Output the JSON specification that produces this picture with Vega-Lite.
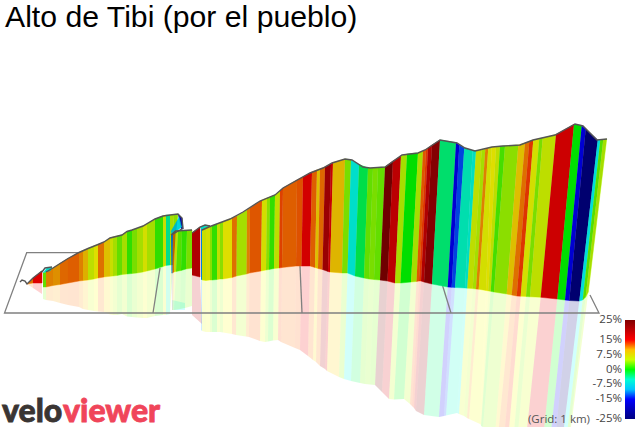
{
"$schema":"https://vega.github.io/schema/vega-lite/v6.json",
"width":637,"height":427,"padding":0,"autosize":"none","background":"white",
"title":{"text":"Alto de Tibi (por el pueblo)","anchor":"start","frame":"group","orient":"top","offset":-33,"dx":5,"font":"Liberation Sans","fontSize":30.2,"fontWeight":"normal","color":"#000000"},
"datasets":{
"slices":[
{"s":1,"g":11,"x":[27,33,33,27],"y":[284,278,283,284],"rx":[27,33,33,27],"ry":[284,283,288,284],"o":[0,1,2,3]},
{"s":2,"g":15,"x":[33,42,42,33],"y":[278,271,283,283],"rx":[33,42,42,33],"ry":[283,283,294,288],"o":[0,1,2,3]},
{"s":4,"g":2,"x":[43,46,46,43],"y":[273,272,287,287],"rx":[43,46,46,43],"ry":[287,287,300,299],"o":[0,1,2,3]},
{"s":5,"g":10.5,"x":[46,53,53,46],"y":[272,268,285.5,287],"rx":[46,53,53,46],"ry":[287,285.5,301,300],"o":[0,1,2,3]},
{"s":6,"g":-6,"x":[43,47,52,50],"y":[273,268,267,271],"rx":[43,47,47,43],"ry":[287,287,287,287],"o":[0,1,2,3]},
{"s":7,"g":10,"x":[53,60,60,53],"y":[268,263.5,284.5,285.5],"rx":[53,60,60,53],"ry":[285.5,284.5,303,301],"o":[0,1,2,3]},
{"s":8,"g":11.5,"x":[60,68,68,60],"y":[263.5,258.5,283,284.5],"rx":[60,68,68,60],"ry":[284.5,283,305,303],"o":[0,1,2,3]},
{"s":9,"g":12,"x":[68,79,79,68],"y":[258.5,252.5,281,283],"rx":[68,79,79,68],"ry":[283,281,307,305],"o":[0,1,2,3]},
{"s":10,"g":10.5,"x":[79,83,83,79],"y":[252.5,250.5,280.5,281],"rx":[79,83,83,79],"ry":[281,280.5,309,307],"o":[0,1,2,3]},
{"s":11,"g":9,"x":[83,88,88,83],"y":[250.5,248.5,280,280.5],"rx":[83,88,88,83],"ry":[280.5,280,310,309],"o":[0,1,2,3]},
{"s":12,"g":6,"x":[88,94,94,88],"y":[248.5,246,279,280],"rx":[88,94,94,88],"ry":[280,279,311,310],"o":[0,1,2,3]},
{"s":13,"g":7.5,"x":[94,98,98,94],"y":[246,244.5,278,279],"rx":[94,98,98,94],"ry":[279,278,311.5,311],"o":[0,1,2,3]},
{"s":14,"g":11,"x":[98,104,104,98],"y":[244.5,242,277,278],"rx":[98,104,104,98],"ry":[278,277,312,311.5],"o":[0,1,2,3]},
{"s":15,"g":8.5,"x":[104,110,110,104],"y":[242,238,276.3,277],"rx":[104,110,110,104],"ry":[277,276.3,314.6,312],"o":[0,1,2,3]},
{"s":16,"g":6.5,"x":[110,113,113,110],"y":[238,237,276,276.3],"rx":[110,113,113,110],"ry":[276.3,276,315,314.6],"o":[0,1,2,3]},
{"s":17,"g":5,"x":[113,117,117,113],"y":[237,236,275.5,276],"rx":[113,117,117,113],"ry":[276,275.5,315,315],"o":[0,1,2,3]},
{"s":18,"g":2,"x":[117,122,122,117],"y":[236,235,274.5,275.5],"rx":[117,122,122,117],"ry":[275.5,274.5,314,315],"o":[0,1,2,3]},
{"s":19,"g":5,"x":[122,127,127,122],"y":[235,231.5,274,274.5],"rx":[122,127,127,122],"ry":[274.5,274,316.5,314],"o":[0,1,2,3]},
{"s":20,"g":0.5,"x":[127,132,132,127],"y":[231.5,230,273.5,274],"rx":[127,132,132,127],"ry":[274,273.5,317,316.5],"o":[0,1,2,3]},
{"s":21,"g":3,"x":[132,137,137,132],"y":[230,228.5,273,273.5],"rx":[132,137,137,132],"ry":[273.5,273,317.5,317],"o":[0,1,2,3]},
{"s":22,"g":5,"x":[137,143,143,137],"y":[228.5,226,272,273],"rx":[137,143,143,137],"ry":[273,272,318,317.5],"o":[0,1,2,3]},
{"s":23,"g":7,"x":[143,147,147,143],"y":[226,224,271,272],"rx":[143,147,147,143],"ry":[272,271,318,318],"o":[0,1,2,3]},
{"s":24,"g":5,"x":[147,155,155,147],"y":[224,219,269,271],"rx":[147,155,155,147],"ry":[271,269,316,318],"o":[0,1,2,3]},
{"s":25,"g":0.5,"x":[155,163,163,155],"y":[219,216,266.5,269],"rx":[155,163,163,155],"ry":[269,266.5,315,316],"o":[0,1,2,3]},
{"s":26,"g":6.5,"x":[163,166,166,163],"y":[216,215,265.5,266.5],"rx":[163,166,166,163],"ry":[266.5,265.5,315,315],"o":[0,1,2,3]},
{"s":27,"g":-3,"x":[166,170,170,166],"y":[215,215,265,265.5],"rx":[166,170,170,166],"ry":[265.5,265,314,315],"o":[0,1,2,3]},
{"s":28,"g":5,"x":[170,174,172,170],"y":[215,214.5,265,265],"rx":[170,172,170,170],"ry":[265,265,313,314],"o":[0,1,2,3]},
{"s":29,"g":4,"x":[174,178,173,172],"y":[214.5,214,265,265],"rx":[172,173,170,170],"ry":[265,265,313,313],"o":[0,1,2,3]},
{"s":30,"g":-20,"x":[178,182,183,181],"y":[214,218,229,229],"rx":[181,183,183,181],"ry":[300,300,300,300],"o":[0,1,2,3]},
{"s":31,"g":-8,"x":[179,181.5,172,171],"y":[217,227,235,231],"rx":[172,185,185,172],"ry":[300,303,310,310],"o":[0,1,2,3]},
{"s":32,"g":-12,"x":[171,173,172.5,171.5],"y":[235,233,273,273],"rx":[171.5,172.5,172,172],"ry":[273,273,310,310],"o":[0,1,2,3]},
{"s":33,"g":11,"x":[173,175.5,174,172.5],"y":[233,231,272,273],"rx":[172.5,174,173,172],"ry":[273,272,310,310],"o":[0,1,2,3]},
{"s":34,"g":6,"x":[175.5,178,176,174],"y":[231,231,271.5,272],"rx":[174,176,174,173],"ry":[272,271.5,310,310],"o":[0,1,2,3]},
{"s":35,"g":1.5,"x":[178,182,181,176],"y":[231,231,270.5,271.5],"rx":[176,181,180,174],"ry":[271.5,270.5,309,310],"o":[0,1,2,3]},
{"s":36,"g":0.5,"x":[182,187,186,181],"y":[231,230.5,269,270.5],"rx":[181,186,185,180],"ry":[270.5,269,308,309],"o":[0,1,2,3]},
{"s":37,"g":3,"x":[187,192,192,186],"y":[230.5,230,268,269],"rx":[186,192,192,185],"ry":[269,268,306,308],"o":[0,1,2,3]},
{"s":38,"g":19,"x":[192,200,200,192],"y":[233,227,277,275],"rx":[192,200,202,192],"ry":[275,277,324,315],"o":[0,1,2,3]},
{"s":39,"g":-6,"x":[200,205,210,202],"y":[227,225,226,231],"rx":[200,202,202,200],"ry":[277,277,277,277],"o":[0,1,2,3]},
{"s":40,"g":-12,"x":[201,202,202,201],"y":[229,230,280,279],"rx":[201,202,202,201],"ry":[279,280,331,330],"o":[0,1,2,3]},
{"s":41,"g":6.5,"x":[202,206,206,202],"y":[230,227.5,280.5,280],"rx":[202,206,206,202],"ry":[280,280.5,332,331],"o":[0,1,2,3]},
{"s":42,"g":7,"x":[206,210,210,206],"y":[227.5,226.5,280,280.5],"rx":[206,210,210,206],"ry":[280.5,280,332,332],"o":[0,1,2,3]},
{"s":43,"g":4,"x":[210,212,212,210],"y":[227,226,280,280],"rx":[210,212,212,210],"ry":[280,280,332,332],"o":[0,1,2,3]},
{"s":44,"g":0.5,"x":[212,217,217,212],"y":[226,224,279.5,280],"rx":[212,217,217,212],"ry":[280,279.5,332,332],"o":[0,1,2,3]},
{"s":45,"g":6,"x":[217,220,220,217],"y":[224,223,279,279.5],"rx":[217,220,220,217],"ry":[279.5,279,332,332],"o":[0,1,2,3]},
{"s":46,"g":4,"x":[220,223,223,220],"y":[223,222,279,279],"rx":[220,223,223,220],"ry":[279,279,332.5,332],"o":[0,1,2,3]},
{"s":47,"g":7.5,"x":[223,232,232,223],"y":[222,218,277.5,279],"rx":[223,232,232,223],"ry":[279,277.5,334,332.5],"o":[0,1,2,3]},
{"s":48,"g":11,"x":[232,237,236.5,232],"y":[218,216,276,277.5],"rx":[232,236.5,236,232],"ry":[277.5,276,335,334],"o":[0,1,2,3]},
{"s":49,"g":5,"x":[237,247,246.5,236.5],"y":[216,210,274,276],"rx":[236.5,246.5,246,236],"ry":[276,274,336.5,335],"o":[0,1,2,3]},
{"s":50,"g":10.5,"x":[247,250,249.5,246.5],"y":[210,208,273,274],"rx":[246.5,249.5,249,246],"ry":[274,273,337,336.5],"o":[0,1,2,3]},
{"s":51,"g":12.5,"x":[250,262,261,249.5],"y":[208,200,271,273],"rx":[249.5,261,260,249],"ry":[273,271,341,337],"o":[0,1,2,3]},
{"s":52,"g":7,"x":[262,267,266,261],"y":[200,198,270,271],"rx":[261,266,265,260],"ry":[271,270,342,341],"o":[0,1,2,3]},
{"s":53,"g":4,"x":[267,270,269,266],"y":[198,197,269.5,270],"rx":[266,269,268,265],"ry":[270,269.5,341.5,342],"o":[0,1,2,3]},
{"s":54,"g":0.5,"x":[270,275,274,269],"y":[197,195,268.5,269.5],"rx":[269,274,273,268],"ry":[269.5,268.5,340.5,341.5],"o":[0,1,2,3]},
{"s":55,"g":6,"x":[275,280,279,274],"y":[195,191,268,268.5],"rx":[274,279,278,273],"ry":[268.5,268,340,340.5],"o":[0,1,2,3]},
{"s":56,"g":13.5,"x":[280,283,282,279],"y":[191,188,267.5,268],"rx":[279,282,281,278],"ry":[268,267.5,342,340],"o":[0,1,2,3]},
{"s":57,"g":12,"x":[283,297,296,282],"y":[188,180,266,267.5],"rx":[282,296,295,281],"ry":[267.5,266,348,342],"o":[0,1,2,3]},
{"s":58,"g":12.8,"x":[297,303,301.5,296],"y":[180,177,266,266],"rx":[296,301.5,300,295],"ry":[266,266,350,348],"o":[0,1,2,3]},
{"s":59,"g":16,"x":[303,312,310,301.5],"y":[177,172,266,266],"rx":[301.5,310,308,300],"ry":[266,266,356,350],"o":[0,1,2,3]},
{"s":60,"g":12,"x":[312,317,315,310],"y":[172,170,267.5,266],"rx":[310,315,313,308],"ry":[266,267.5,360,356],"o":[0,1,2,3]},
{"s":61,"g":8.5,"x":[317,320,318,315],"y":[170,169,268.5,267.5],"rx":[315,318,316,313],"ry":[267.5,268.5,362,360],"o":[0,1,2,3]},
{"s":62,"g":11.5,"x":[320,325,322.5,318],"y":[169,167,269.5,268.5],"rx":[318,322.5,320,316],"ry":[268.5,269.5,366,362],"o":[0,1,2,3]},
{"s":63,"g":21,"x":[325,331,328,322.5],"y":[167,164,271.5,269.5],"rx":[322.5,328,325,320],"ry":[269.5,271.5,369,366],"o":[0,1,2,3]},
{"s":64,"g":17,"x":[331,333,330,328],"y":[164,162.5,272,271.5],"rx":[328,330,327,325],"ry":[271.5,272,371,369],"o":[0,1,2,3]},
{"s":65,"g":8.8,"x":[333,345,342,330],"y":[162.5,159,273,272],"rx":[330,342,339,327],"ry":[272,273,377,371],"o":[0,1,2,3]},
{"s":66,"g":3,"x":[345,351,347.5,342],"y":[159,160,273,273],"rx":[342,347.5,344,339],"ry":[273,273,379,377],"o":[0,1,2,3]},
{"s":67,"g":-6,"x":[351,359,355,347.5],"y":[160,164.5,276,273],"rx":[347.5,355,351,344],"ry":[273,276,381,379],"o":[0,1,2,3]},
{"s":68,"g":-1,"x":[359,368,364,355],"y":[164.5,168,278,276],"rx":[355,364,360,351],"ry":[276,278,383,381],"o":[0,1,2,3]},
{"s":69,"g":2,"x":[368,373,369,364],"y":[168,168,279,278],"rx":[364,369,365,360],"ry":[278,279,384,383],"o":[0,1,2,3]},
{"s":70,"g":3,"x":[373,378,374,369],"y":[168,167.5,279.5,279],"rx":[369,374,370,365],"ry":[279,279.5,384.5,384],"o":[0,1,2,3]},
{"s":71,"g":2,"x":[378,385,380,374],"y":[167.5,167,280,279.5],"rx":[374,380,375,370],"ry":[279.5,280,385,384.5],"o":[0,1,2,3]},
{"s":72,"g":25,"x":[385,393,387.5,380],"y":[167,161,281,280],"rx":[380,387.5,382,375],"ry":[280,281,392,385],"o":[0,1,2,3]},
{"s":73,"g":18,"x":[393,401,395,387.5],"y":[161,156,283,281],"rx":[387.5,395,389,382],"ry":[281,283,399,392],"o":[0,1,2,3]},
{"s":74,"g":5,"x":[401,407,400.5,395],"y":[156,154,283,283],"rx":[395,400.5,394,389],"ry":[283,283,399.5,399],"o":[0,1,2,3]},
{"s":75,"g":0,"x":[407,418,411,400.5],"y":[154,153,282,283],"rx":[400.5,411,404,394],"ry":[283,282,399,399.5],"o":[0,1,2,3]},
{"s":76,"g":5,"x":[418,423,416.5,411],"y":[153,151,281.5,282],"rx":[411,416.5,410,404],"ry":[282,281.5,404,399],"o":[0,1,2,3]},
{"s":77,"g":12.5,"x":[423,426,419,416.5],"y":[151,149.5,281,281.5],"rx":[416.5,419,412,410],"ry":[281.5,281,406,404],"o":[0,1,2,3]},
{"s":78,"g":14,"x":[426,428,421,419],"y":[149.5,148,281,281],"rx":[419,421,414,412],"ry":[281,281,408,406],"o":[0,1,2,3]},
{"s":79,"g":19,"x":[428,432,424,421],"y":[148,145,282,281],"rx":[421,424,416,414],"ry":[281,282,411,408],"o":[0,1,2,3]},
{"s":80,"g":23,"x":[432,440,432,424],"y":[145,140,284,282],"rx":[424,432,424,416],"ry":[282,284,415,411],"o":[0,1,2,3]},
{"s":81,"g":-2,"x":[440,456,447.7,432],"y":[140,142.5,287,284],"rx":[432,447.7,439,424],"ry":[284,287,417,415],"o":[0,1,2,3]},
{"s":82,"g":-16,"x":[456,459.3,451.7,447.7],"y":[142.5,145,287.3,287],"rx":[447.7,451.7,444,439],"ry":[287,287.3,416,417],"o":[0,1,2,3]},
{"s":83,"g":-14,"x":[459.3,464.3,455,451.7],"y":[145,148,287.5,287.3],"rx":[451.7,455,446,444],"ry":[287.3,287.5,415.5,416],"o":[0,1,2,3]},
{"s":84,"g":-4.5,"x":[464.3,472.7,465,455],"y":[148,150.5,288,287.5],"rx":[455,465,457,446],"ry":[287.5,288,413,415.5],"o":[0,1,2,3]},
{"s":85,"g":-5.5,"x":[472.7,476,467.3,465],"y":[150.5,151,288.2,288],"rx":[465,467.3,459,457],"ry":[288,288.2,414,413],"o":[0,1,2,3]},
{"s":86,"g":6,"x":[476,481.7,472.7,467.3],"y":[151,149.5,288.6,288.2],"rx":[467.3,472.7,464,459],"ry":[288.2,288.6,416,414],"o":[0,1,2,3]},
{"s":87,"g":5,"x":[481.7,485.3,476,472.7],"y":[149.5,149,289,288.6],"rx":[472.7,476,467,464],"ry":[288.6,289,418,416],"o":[0,1,2,3]},
{"s":88,"g":10.5,"x":[485.3,488.3,478.7,476],"y":[149,148,289.2,289],"rx":[476,478.7,469,467],"ry":[289,289.2,419,418],"o":[0,1,2,3]},
{"s":89,"g":7,"x":[488.3,491.7,486,478.7],"y":[148,147,290.5,289.2],"rx":[478.7,486,480,469],"ry":[289.2,290.5,424,419],"o":[0,1,2,3]},
{"s":90,"g":7.5,"x":[491.7,496,488.3,486],"y":[147,146.8,291,290.5],"rx":[486,488.3,481,480],"ry":[290.5,291,425,424],"o":[0,1,2,3]},
{"s":91,"g":6,"x":[496,500,490.7,488.3],"y":[146.8,146.3,291.3,291],"rx":[488.3,490.7,481,481],"ry":[291,291.3,426,425],"o":[0,1,2,3]},
{"s":92,"g":1,"x":[500,505,494,490.7],"y":[146.3,146,292,291.3],"rx":[490.7,494,483,481],"ry":[291.3,292,427,426],"o":[0,1,2,3]},
{"s":93,"g":4,"x":[505,518.3,506.7,494],"y":[146,145,294,292],"rx":[494,506.7,495,483],"ry":[292,294,434,427],"o":[0,1,2,3]},
{"s":94,"g":8.5,"x":[518.3,525,511.7,506.7],"y":[145,143,295,294],"rx":[506.7,511.7,498,495],"ry":[294,295,437,434],"o":[0,1,2,3]},
{"s":95,"g":11,"x":[525,529.3,516.7,511.7],"y":[143,141.5,296,295],"rx":[511.7,516.7,504,498],"ry":[295,296,439,437],"o":[0,1,2,3]},
{"s":96,"g":14,"x":[529.3,533.3,520.7,516.7],"y":[141.5,140,296.2,296],"rx":[516.7,520.7,508,504],"ry":[296,296.2,441,439],"o":[0,1,2,3]},
{"s":97,"g":7,"x":[533.3,539.3,526,520.7],"y":[140,138.6,296.5,296.2],"rx":[520.7,526,513,508],"ry":[296.2,296.5,443,441],"o":[0,1,2,3]},
{"s":98,"g":3,"x":[539.3,542.7,530,526],"y":[138.6,138,296.8,296.5],"rx":[526,530,517,513],"ry":[296.5,296.8,444,443],"o":[0,1,2,3]},
{"s":99,"g":6,"x":[542.7,556,540.7,530],"y":[138,134.5,297.3,296.8],"rx":[530,540.7,525,517],"ry":[296.8,297.3,448,444],"o":[0,1,2,3]},
{"s":100,"g":16.5,"x":[556,574,557.3,540.7],"y":[134.5,124.5,299,297.3],"rx":[540.7,557.3,541,525],"ry":[297.3,299,460,448],"o":[0,1,2,3]},
{"s":101,"g":0,"x":[574,581.7,565,557.3],"y":[124.5,125.5,300,299],"rx":[557.3,565,548,541],"ry":[299,300,460,460],"o":[0,1,2,3]},
{"s":102,"g":-16,"x":[581.7,585.7,569.3,565],"y":[125.5,129,300.5,300],"rx":[565,569.3,553,548],"ry":[300,300.5,460,460],"o":[0,1,2,3]},
{"s":103,"g":-25,"x":[585.7,597.7,579.3,569.3],"y":[129,140,301,300.5],"rx":[569.3,579.3,561,553],"ry":[300.5,301,452,460],"o":[0,1,2,3]},
{"s":104,"g":-7,"x":[597.7,600.3,582.7,579.3],"y":[140,139.8,300,301],"rx":[579.3,582.7,565,561],"ry":[301,300,450,452],"o":[0,1,2,3]},
{"s":105,"g":1.5,"x":[600.3,603.3,585.7,582.7],"y":[139.8,139.5,297,300],"rx":[582.7,585.7,568,565],"ry":[300,297,445,450],"o":[0,1,2,3]},
{"s":106,"g":5,"x":[603.3,606.7,588.3,585.7],"y":[139.5,139,292,297],"rx":[585.7,588.3,570,568],"ry":[297,292,435,445],"o":[0,1,2,3]}
],
"grid":[
{"l":"outer","x":[78,26.7,4.5,599,590],"y":[252.7,252.7,313,313,295],"o":[0,1,2,3,4]},
{"l":"km1","x":[153,160],"y":[313,268],"o":[0,1]},
{"l":"km2","x":[302,300],"y":[313,266],"o":[0,1]},
{"l":"km3","x":[451,442.7],"y":[313,286],"o":[0,1]}
],
"outline":[
{"sec":"a","x":[20,22,25,27,33,42],"y":[282,280,281,284,278,271]},
{"sec":"b","x":[42,45,52],"y":[272,268,267]},
{"sec":"c","x":[46,53,60,68,79,88,98,104,110,122,127,132,143,155,163,170,178,182,183],"y":[272,268,263.5,258.5,252.5,248.5,244.5,242,238,235,231.5,230,226,219,216,215,214,218,229]},
{"sec":"d","x":[171.5,182.5],"y":[235,228.5]},
{"sec":"e","x":[171,175.5,192],"y":[235,231,230]},
{"sec":"f","x":[192,200,205,210],"y":[233,227,225,226]},
{"sec":"g","x":[202,210,230,243,260,275,283,310,323,332,345,352,363,370,385,402,418,425,440,457,465,475,492,503,520,533,555,575,583,597,607],"y":[230,226.5,219,212,201,195,188,173,168,163,159,160,167,168,167,155,153,150,140,143,148,151,147,146,145,140,135,124,126,140,139]}
]
},
"layer":[
{"data":{"name":"slices"},"transform":[{"flatten":["rx","ry","o"]}],
"mark":{"type":"line","filled":true,"opacity":0.18,"clip":true},
"encoding":{
"x":{"field":"rx","type":"quantitative","scale":{"domain":[0,637],"nice":false},"axis":null},
"y":{"field":"ry","type":"quantitative","scale":{"domain":[427,0],"nice":false},"axis":null},
"detail":{"field":"s"},"order":{"field":"o"},
"color":{"field":"g","type":"quantitative","legend":null,
"scale":{"domain":[-25,-15,-7.5,0,4,7.5,11,15,25],"range":["#000080","#0000ff","#00ffff","#00ff00","#a0ff00","#ffff00","#ff8000","#ff0000","#800000"]}}
}},
{"data":{"name":"grid"},"transform":[{"flatten":["x","y","o"]}],
"mark":{"type":"line","color":"#808080","strokeWidth":1.3},
"encoding":{"x":{"field":"x","type":"quantitative","axis":null},"y":{"field":"y","type":"quantitative","axis":null},"detail":{"field":"l"},"order":{"field":"o"}}},
{"data":{"name":"slices"},"transform":[{"flatten":["x","y","o"]}],
"mark":{"type":"line","filled":true,"strokeWidth":0.5},
"encoding":{"x":{"field":"x","type":"quantitative","axis":null},"y":{"field":"y","type":"quantitative","axis":null},"detail":{"field":"s"},"order":{"field":"o"},
"color":{"field":"g","type":"quantitative","legend":null},
"stroke":{"field":"g","type":"quantitative","legend":null,"scale":{"domain":[-25,-15,-7.5,0,4,7.5,11,15,25],"range":["#000080","#0000ff","#00ffff","#00ff00","#a0ff00","#ffff00","#ff8000","#ff0000","#800000"]}}}},
{"data":{"name":"slices"},"transform":[{"flatten":["x","y","o"]}],
"mark":{"type":"line","filled":true,"fill":"#000000","opacity":0.13},
"encoding":{"x":{"field":"x","type":"quantitative","axis":null},"y":{"field":"y","type":"quantitative","axis":null},"detail":{"field":"s"},"order":{"field":"o"}}},
{"data":{"name":"outline"},"transform":[{"flatten":["x","y"]}],
"mark":{"type":"line","color":"#555555","strokeWidth":1.4},
"encoding":{"x":{"field":"x","type":"quantitative","axis":null},"y":{"field":"y","type":"quantitative","axis":null},"detail":{"field":"sec"}}},
{"data":{"values":[{"g":-25},{"g":25}]},
"mark":{"type":"rect","opacity":0},
"encoding":{"fill":{"field":"g","type":"quantitative",
"scale":{"domain":[-25,-15,-7.5,0,7.5,15,25],"range":["#000080","#0000ff","#00ffff","#00ff00","#ffff00","#ff0000","#800000"]},
"legend":{"title":null,"orient":"none","legendX":625,"legendY":320,"direction":"vertical","type":"gradient","gradientOpacity":1,"gradientLength":99,"gradientThickness":10,"gradientStrokeWidth":0,"values":[-25,-15,-7.5,0,7.5,15,25],"labelExpr":"datum.value + '%'","labelOffset":-13,"labelOverlap":false,"labelFont":"Open Sans","labelFontSize":11.5,"labelColor":"#444444","encoding":{"labels":{"align":{"value":"right"},"baseline":{"value":"middle"}}}}}}},
{"data":{"values":[{"t":"velo","x":2,"y":422}]},
"mark":{"type":"text","align":"left","baseline":"alphabetic","font":"Lato","fontWeight":900,"fontSize":32,"color":"#3a3533","stroke":"#3a3533","strokeWidth":0.8},
"encoding":{"x":{"field":"x","type":"quantitative","axis":null},"y":{"field":"y","type":"quantitative","axis":null},"text":{"field":"t"}}},
{"data":{"values":[{"t":"viewer","x":63,"y":422}]},
"mark":{"type":"text","align":"left","baseline":"alphabetic","font":"Lato","fontWeight":900,"fontSize":32,"color":"#f0455a","stroke":"#f0455a","strokeWidth":0.8},
"encoding":{"x":{"field":"x","type":"quantitative","axis":null},"y":{"field":"y","type":"quantitative","axis":null},"text":{"field":"t"}}},
{"data":{"values":[{"t":"(Grid: 1 km)","x":590,"y":423}]},
"mark":{"type":"text","align":"right","baseline":"alphabetic","font":"Open Sans","fontSize":11.5,"color":"#555555"},
"encoding":{"x":{"field":"x","type":"quantitative","axis":null},"y":{"field":"y","type":"quantitative","axis":null},"text":{"field":"t"}}}
],
"config":{"view":{"stroke":null}}
}
